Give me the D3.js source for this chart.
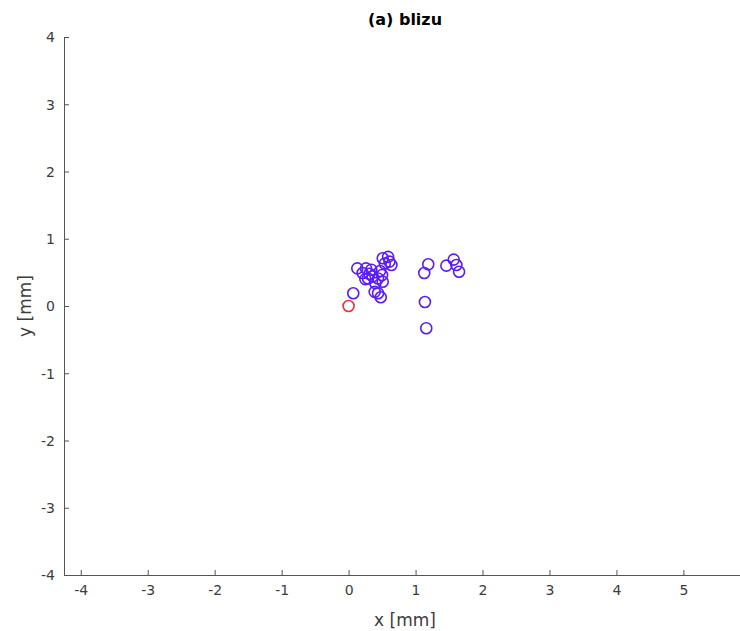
<!DOCTYPE html>
<html><head><meta charset="utf-8">
<script src="https://cdn.jsdelivr.net/npm/d3@7"></script>
<style>body{margin:0;background:#fff}svg{display:block}</style>
</head><body>
<script>
const title = "(a) blizu";
const xLabel = "x [mm]";
const yLabel = "y [mm]";
const xTicks = [-4,-3,-2,-1,0,1,2,3,4,5];
const yTicks = [-4,-3,-2,-1,0,1,2,3,4];
const refX = [0];
const refY = [0];
const ptsX = [0.07,0.13,0.26,0.21,0.34,0.29,0.36,0.44,0.50,0.51,0.40,0.39,0.44,0.48,0.51,0.59,0.61,0.54,0.64,0.31,0.25,0.47,1.19,1.13,1.14,1.16,1.46,1.57,1.61,1.65];
const ptsY = [0.19,0.56,0.56,0.49,0.54,0.41,0.44,0.41,0.46,0.36,0.34,0.21,0.19,0.13,0.71,0.73,0.66,0.63,0.61,0.48,0.40,0.52,0.62,0.49,0.06,-0.33,0.60,0.69,0.61,0.51];

const W = 740, H = 631;
const svg = d3.select("body").append("svg").attr("width", W).attr("height", H);
const x = d3.scaleLinear().domain([-4.25, 5.92]).range([64, 745]);
const y = d3.scaleLinear().domain([-4, 4]).range([575, 37]);
const axisCol = "#3c3c3c";
const font = "DejaVu Sans, sans-serif";

const gx = svg.append("g").attr("transform", `translate(0,${y(-4)})`)
  .call(d3.axisBottom(x).tickValues(xTicks).tickSizeInner(-5).tickSizeOuter(0).tickPadding(10).tickFormat(d => String(d)));
const gy = svg.append("g").attr("transform", `translate(${x(-4.25)},0)`)
  .call(d3.axisLeft(y).tickValues(yTicks).tickSizeInner(-5).tickSizeOuter(0).tickPadding(9).tickFormat(d => String(d)));
[gx, gy].forEach(g => {
  g.select(".domain").attr("stroke", "#555").attr("stroke-width", 1);
  g.selectAll(".tick line").attr("stroke", "#555");
  g.selectAll(".tick text").attr("fill", axisCol).style("font-family", font).style("font-size", "14px");
});
gy.selectAll(".tick text").attr("dy", "0.35em");

svg.append("g").selectAll("circle").data(ptsX.map((d,i)=>[d, ptsY[i]])).join("circle")
  .attr("cx", d => x(d[0])).attr("cy", d => y(d[1])).attr("r", 5.5)
  .attr("fill", "none").attr("stroke", "#5a1cff").attr("stroke-width", 1.6);
svg.append("g").selectAll("circle").data(refX.map((d,i)=>[d, refY[i]])).join("circle")
  .attr("cx", d => x(d[0])).attr("cy", d => y(d[1])).attr("r", 5.5)
  .attr("fill", "none").attr("stroke", "#f0303c").attr("stroke-width", 1.6);

svg.append("text").attr("x", 405).attr("y", 25).attr("text-anchor", "middle")
  .style("font-family", font).style("font-size", "16px").style("font-weight", "bold").attr("fill", "#000").text(title);
svg.append("text").attr("x", 405).attr("y", 626).attr("text-anchor", "middle")
  .style("font-family", font).style("font-size", "17px").attr("fill", axisCol).text(xLabel);
svg.append("text").attr("transform", "translate(31,306) rotate(-90)").attr("text-anchor", "middle")
  .style("font-family", font).style("font-size", "17px").attr("fill", axisCol).text(yLabel);
</script>
</body></html>
